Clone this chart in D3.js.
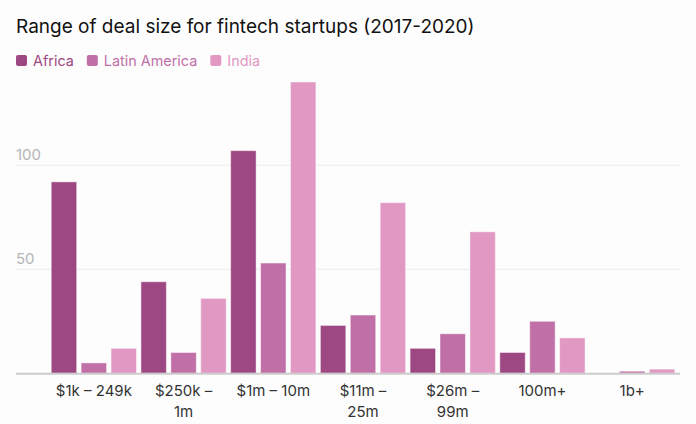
<!DOCTYPE html>
<html>
<head>
<meta charset="utf-8">
<script src="https://cdn.jsdelivr.net/npm/d3@7"></script>
<style>
  html, body { margin: 0; padding: 0; background: #fdfdfd; }
  svg { display: block; font-family: Inter, "Noto Sans", sans-serif; }
</style>
</head>
<body>
<svg id="chart" width="696" height="424"></svg>
<script>
const categories = ["$1k – 249k", "$250k – 1m", "$1m – 10m", "$11m – 25m", "$26m – 99m", "100m+", "1b+"];
const seriesNames = ["Africa", "Latin America", "India"];
const africa = [92, 44, 107, 23, 12, 10, 0];
const latinAmerica = [5, 10, 53, 28, 19, 25, 1];
const india = [12, 36, 140, 82, 68, 17, 2];
const yTicks = [50, 100];
const colors = ["#9e4883", "#c070a7", "#e198c3"];

const seriesValues = [africa, latinAmerica, india];
const rows = categories.map((c, i) => ({
    category: c,
    values: seriesNames.map((s, j) => ({ series: s, value: seriesValues[j][i] }))
}));

const svg = d3.select("#chart");

const x0 = d3.scaleBand().domain(categories).range([49, 677]).paddingInner(0).paddingOuter(0);
const x1 = d3.scaleBand().domain(seriesNames).range([0, x0.bandwidth()]).paddingInner(0.15).paddingOuter(0.075);
const y = d3.scaleLinear().domain([0, 140]).range([373.3, 82]);
const color = d3.scaleOrdinal().domain(seriesNames).range(colors);

// title
svg.append("text")
    .attr("x", 16)
    .attr("y", 33)
    .attr("font-size", 19)
    .attr("fill", "#111")
    .text("Range of deal size for fintech startups (2017-2020)");

// legend
const legend = svg.append("g");
let lx = 16;
seriesNames.forEach((s) => {
    const g = legend.append("g").attr("transform", `translate(${lx},0)`);
    g.append("rect").attr("x", 0).attr("y", 55).attr("width", 11).attr("height", 11).attr("rx", 2).attr("fill", color(s));
    const t = g.append("text").attr("x", 17).attr("y", 66).attr("font-size", 14.4).attr("fill", color(s)).text(s);
    lx += 17 + t.node().getComputedTextLength() + 13;
});

// grid
const grid = svg.append("g");
yTicks.forEach((t) => {
    grid.append("line")
        .attr("x1", 16).attr("x2", 680)
        .attr("y1", y(t)).attr("y2", y(t))
        .attr("stroke", "#ececec").attr("stroke-width", 1);
    grid.append("text")
        .attr("x", 16).attr("y", y(t) - 5)
        .attr("font-size", 15)
        .attr("fill", "#b5b5b5")
        .text(t);
});

// bars
svg.append("g")
    .selectAll("g")
    .data(rows)
    .join("g")
    .attr("transform", (d) => `translate(${x0(d.category)},0)`)
    .selectAll("rect")
    .data((d) => d.values.filter((v) => v.value > 0))
    .join("rect")
    .attr("x", (d) => x1(d.series))
    .attr("y", (d) => y(d.value))
    .attr("width", x1.bandwidth())
    .attr("height", (d) => y(0) - y(d.value))
    .attr("fill", (d) => color(d.series))
    .attr("stroke", "#fff")
    .attr("stroke-opacity", 0.45)
    .attr("stroke-width", 1);

// baseline
svg.append("line")
    .attr("x1", 16).attr("x2", 680)
    .attr("y1", y(0) + 0.5).attr("y2", y(0) + 0.5)
    .attr("stroke", "#cccccc").attr("stroke-width", 2);

// x labels, wrapped
const xAxis = svg.append("g");
categories.forEach((c) => {
    const cx = x0(c) + x0.bandwidth() / 2;
    const parts = c.split(" ");
    const lines = [];
    let cur = "";
    parts.forEach((p) => {
        const test = cur ? cur + " " + p : p;
        const probe = xAxis.append("text").attr("font-size", 15).text(test);
        const w = probe.node().getComputedTextLength();
        probe.remove();
        if (w > 78 && cur) {
            lines.push(cur);
            cur = p;
        } else {
            cur = test;
        }
    });
    lines.push(cur);
    const t = xAxis.append("text")
        .attr("text-anchor", "middle")
        .attr("font-size", 15)
        .attr("fill", "#333");
    lines.forEach((l, i) => {
        t.append("tspan").attr("x", cx).attr("y", 396 + i * 21).text(l);
    });
});
</script>
</body>
</html>
